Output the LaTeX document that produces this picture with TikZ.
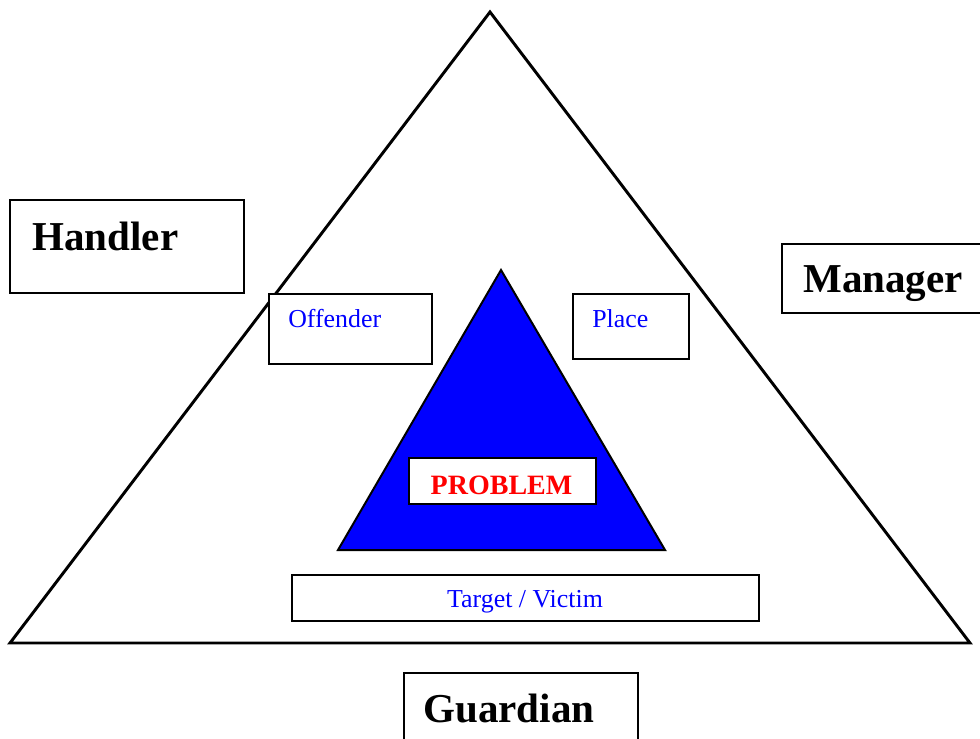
\documentclass[tikz,border=0pt]{standalone}
\usepackage{fontspec}
\setmainfont{Liberation Serif}
\definecolor{pureblue}{RGB}{0,0,255}
\definecolor{purered}{RGB}{255,0,0}
\begin{document}
\begin{tikzpicture}[x=0.75pt,y=-0.75pt,
  boxst/.style={draw=black,fill=white,line width=1.5pt,rectangle,inner sep=0pt},
  bigtxt/.style={font=\fontsize{30.8}{36}\selectfont\bfseries,inner sep=0pt,anchor=base west},
  smalltxt/.style={font=\fontsize{19.4}{23}\selectfont,text=pureblue,inner sep=0pt,anchor=base west},
  tri/.style={line width=2.2pt,line join=miter}]
\useasboundingbox (0,0) rectangle (980,738);
\clip (0,0) rectangle (980,738);
\fill[white] (0,0) rectangle (980,738);
% outer triangle
\coordinate (oa) at (490,12);
\coordinate (ob) at (10,643);
\coordinate (oc) at (970,643);
\draw[tri] (oa) -- (ob) -- (oc) -- cycle;
% inner triangle
\coordinate (ia) at (501,270);
\coordinate (ib) at (338,550);
\coordinate (ic) at (665,550);
\draw[fill=pureblue,line width=1.5pt,line join=miter] (ia) -- (ib) -- (ic) -- cycle;
% boxes
\node[boxst,minimum width=234*0.75pt,minimum height=93*0.75pt] (handler) at (127,246.5) {};
\node[bigtxt] (handlert) at (32,250) {Handler};
\node[boxst,minimum width=220*0.75pt,minimum height=69*0.75pt,anchor=north west] (manager) at (781,243) {};
\node[bigtxt] (managert) at (803,292) {Manager};
\node[boxst,minimum width=234*0.75pt,minimum height=90*0.75pt,anchor=north west] (guardian) at (403,672) {};
\node[bigtxt] (guardiant) at (423,722) {Guardian};
\node[boxst,minimum width=163*0.75pt,minimum height=70*0.75pt,anchor=north west] (offender) at (268,293) {};
\node[smalltxt] (offendert) at (288,327) {Offender};
\node[boxst,minimum width=116*0.75pt,minimum height=65*0.75pt,anchor=north west] (place) at (572,293) {};
\node[smalltxt] (placet) at (592,327) {Place};
\node[boxst,minimum width=187*0.75pt,minimum height=46*0.75pt,anchor=north west] (problem) at (408,457) {};
\node[font=\fontsize{21}{25}\selectfont\bfseries,text=purered,inner sep=0pt,anchor=base] (problemt) at (501.5,494) {PROBLEM};
\node[boxst,minimum width=467*0.75pt,minimum height=46*0.75pt,anchor=north west] (target) at (291,574) {};
\node[smalltxt,anchor=base] (targett) at (525,607) {Target / Victim};
\end{tikzpicture}
\end{document}
